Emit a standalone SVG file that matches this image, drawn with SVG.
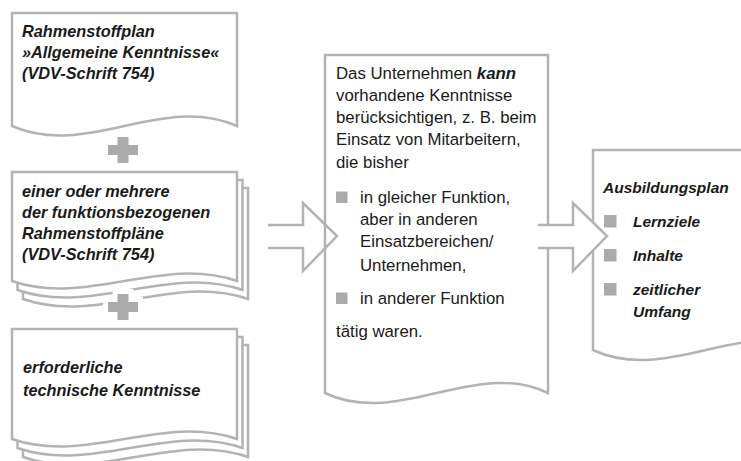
<svg xmlns="http://www.w3.org/2000/svg" width="741" height="461" viewBox="0 0 741 461">
<style>
.pg{fill:#fff;stroke:#b3b3b3;stroke-width:2.5;stroke-linejoin:miter}
.ar{stroke:#b3b3b3;stroke-width:2.5;stroke-linejoin:miter}
.plus{fill:#ababab;stroke:#fff;stroke-width:10;paint-order:stroke}
.bul{fill:#ababab}
.bi{font-family:"Liberation Sans",Arial,sans-serif;font-weight:bold;font-style:italic;font-size:16.3px;fill:#1a1a1a}
.rg{font-family:"Liberation Sans",Arial,sans-serif;font-size:16.8px;fill:#1a1a1a}
.bir{font-family:"Liberation Sans",Arial,sans-serif;font-weight:bold;font-style:italic;font-size:15.5px;fill:#1a1a1a}
</style>
<rect width="741" height="461" fill="#fff"/>
<g id="doc1">
<path class="pg" d="M12,13 H237 V126 C162,93 87,159 12,126 Z"/>
<text class="bi" x="22" y="37">Rahmenstoffplan</text>
<text class="bi" x="22" y="58">»Allgemeine Kenntnisse«</text>
<text class="bi" x="22" y="79">(VDV-Schrift 754)</text>
</g>
<g id="doc2">
<path class="pg" d="M23,188 H248 V299 C173,273 98,325 23,299 Z"/>
<path class="pg" d="M17.5,180 H242.5 V290 C167.5,264 92.5,316 17.5,290 Z"/>
<path class="pg" d="M12,172 H237 V281 C162,255 87,307 12,281 Z"/>
<text class="bi" x="22" y="197">einer oder mehrere</text>
<text class="bi" x="22" y="218">der funktionsbezogenen</text>
<text class="bi" x="22" y="239">Rahmenstoffpläne</text>
<text class="bi" x="22" y="260">(VDV-Schrift 754)</text>
</g>
<g id="doc3">
<path class="pg" d="M23,345 H248 V457 C173,431 98,483 23,457 Z"/>
<path class="pg" d="M17.5,337 H242.5 V448 C167.5,422 92.5,474 17.5,448 Z"/>
<path class="pg" d="M12,329 H237 V439 C162,413 87,465 12,439 Z"/>
<text class="bi" x="23" y="373">erforderliche</text>
<text class="bi" x="23" y="396">technische Kenntnisse</text>
</g>
<g id="plus1">
<path class="plus" d="M117.5,137 H128.5 V145 H138 V155 H128.5 V163 H117.5 V155 H108 V145 H117.5 Z"/>
</g>
<g id="plus2">
<path class="plus" d="M117.5,294 H128.5 V302 H138 V312 H128.5 V320 H117.5 V312 H108 V302 H117.5 Z"/>
</g>
<g id="doc4">
<path class="pg" d="M325,55 H548 V393 C474,358 399,428 325,393 Z"/>
<text class="rg" x="336" y="79">Das Unternehmen <tspan font-weight="bold" font-style="italic">kann</tspan></text>
<text class="rg" x="336" y="101">vorhandene Kenntnisse</text>
<text class="rg" x="336" y="123">berücksichtigen, z. B. beim</text>
<text class="rg" x="336" y="145">Einsatz von Mitarbeitern,</text>
<text class="rg" x="336" y="168">die bisher</text>
<rect class="bul" x="336" y="191.5" width="11.5" height="11.5"/>
<text class="rg" x="360" y="203">in gleicher Funktion,</text>
<text class="rg" x="360" y="225">aber in anderen</text>
<text class="rg" x="360" y="247">Einsatzbereichen/</text>
<text class="rg" x="360" y="271">Unternehmen,</text>
<rect class="bul" x="336" y="292.5" width="11.5" height="11.5"/>
<text class="rg" x="360" y="304">in anderer Funktion</text>
<text class="rg" x="336" y="337">tätig waren.</text>
</g>
<g id="doc5">
<path class="pg" d="M593,150 H819 V350 C744,315 668,385 593,350 Z"/>
<text class="bir" x="603" y="193">Ausbildungsplan</text>
<rect class="bul" x="604" y="215" width="12.5" height="12.5"/>
<text class="bir" x="633" y="227">Lernziele</text>
<rect class="bul" x="604" y="249" width="12.5" height="12.5"/>
<text class="bir" x="633" y="261">Inhalte</text>
<rect class="bul" x="604" y="283" width="12.5" height="12.5"/>
<text class="bir" x="633" y="295">zeitlicher</text>
<text class="bir" x="633" y="317">Umfang</text>
</g>
<g id="connectors">
<path class="ar" fill="none" d="M268,225 H303 V203 L337,236 L303,271 V248 H268"/>
<path class="ar" fill="#fff" d="M538,225 H573 V203 L607,236 L573,271 V248 H538"/>
</g>
</svg>
